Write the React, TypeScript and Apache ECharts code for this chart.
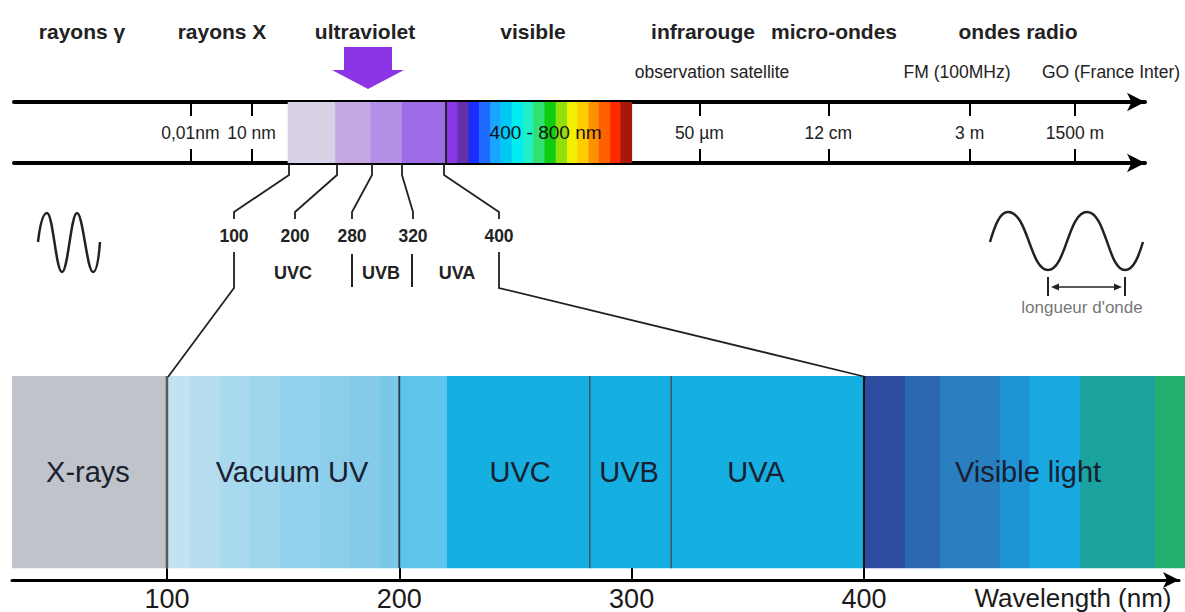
import React, { useEffect, useRef } from "react";
import * as echarts from "echarts";

// ---------- data ----------
// bottom band (wavelength in nm)
const BAND_EDGES = [33.3, 100, 109.9, 122.8, 135.7, 148.6, 165.9, 178.8, 191.7, 200, 220.5, 400, 417.6, 432.7, 458.5, 471.4, 493, 525.3, 538.5];
const BAND_COLORS = ["#bfc3ca", "#c0e2f1", "#b5ddef", "#a9d9ee", "#9fd5ed", "#94d1ec", "#8ccdea", "#83cbe9", "#79c8e8", "#5ec4ec", "#15afe2", "#2d4b9f", "#2a66b1", "#2a7fc1", "#1f94d4", "#19a8df", "#1ba39f", "#22af70"];
const BAND_DIVIDERS = [100, 200, 282, 317, 400];
const DIVIDER_COLORS = ["#5a5a5a", "#2a3a40", "#3d5560", "#3d5560", "#111111"];
const DIVIDER_WIDTHS = [2.5, 1.8, 1.5, 1.5, 2];
const BAND_LABELS = ["X-rays", "Vacuum UV", "UVC", "UVB", "UVA", "Visible light"];
const BAND_LABEL_AT = [66, 153.8, 252, 298.9, 353.5, 470.6];
const AXIS_TICKS = [100, 200, 300, 400];

// top ruler (position along the schematic ruler, 0..100)
const TOP_EDGES = [24.2, 28.4, 31.5, 34.3, 38.2, 39.2, 40.2, 41.1, 42.1, 43.0, 44.0, 45.0, 45.9, 46.9, 47.9, 48.9, 49.8, 50.8, 51.7, 52.7, 53.6, 54.6];
const TOP_COLORS = ["#d9d2e6", "#c5a9e5", "#b48fe6", "#9e6be6", "#8a38e6", "#6630aa", "#1a2cff", "#1f6bff", "#1aa5ff", "#00c8f5", "#00eef0", "#20f0c8", "#30e070", "#10cc10", "#90e010", "#f0f000", "#ffcc00", "#ff9000", "#ff6000", "#ff2a00", "#a81808"];
const TOP_BORDER = 38.2;
const TOP_TICKS = [15.6, 21.0, 60.6, 72.0, 84.5, 93.8];
const TOP_TICK_LABELS = ["0,01nm", "10 nm", "50 µm", "12 cm", "3 m", "1500 m"];
const VISIBLE_LABEL = "400 - 800 nm";
const VISIBLE_LABEL_AT = 47.0;

const HEADERS = ["rayons γ", "rayons X", "ultraviolet", "visible", "infrarouge", "micro-ondes", "ondes radio"];
const SUBHEADERS = ["observation satellite", "FM (100MHz)", "GO (France Inter)"];
const UV_BOUNDS = ["100", "200", "280", "320", "400"];
const UV_NAMES = ["UVC", "UVB", "UVA"];

const FONT = "'Liberation Sans', Arial, Helvetica, sans-serif";

echarts.graphic.registerShape(
  "waveSmall",
  echarts.graphic.extendPath(
    "M38,242 C40,225 43,213 47,213 C53,213 56,272 62,272 C68,272 71,213 77,213 C83,213 87,272 93,272 C97,272 99,255 100,242",
    {}
  )
);
echarts.graphic.registerShape(
  "waveBig",
  echarts.graphic.extendPath(
    "M990,242 C995,225 1000,212 1008,212 C1028,212 1030,270 1048,270 C1066,270 1068,212 1087,212 C1106,212 1108,270 1125,270 C1134,270 1139,255 1143,242",
    {}
  )
);

function txt(text: string, x: number, y: number, size: number, opts: any = {}) {
  return {
    type: "text",
    x,
    y,
    z: 10,
    style: {
      text,
      fontSize: size,
      fontFamily: FONT,
      fontWeight: opts.weight || "normal",
      fill: opts.color || "#222",
      align: opts.align || "center",
      verticalAlign: "middle",
    },
  };
}

function pl(points: number[][], width = 1.8, color = "#222") {
  return {
    type: "polyline",
    z: 5,
    shape: { points },
    style: { stroke: color, lineWidth: width, fill: "none" },
  };
}

export default function App() {
  const ref = useRef<HTMLDivElement>(null);

  useEffect(() => {
    if (!ref.current) return;
    const chart = echarts.init(ref.current, null, { renderer: "svg" });

    const bandData = BAND_COLORS.map((_, i) => [BAND_EDGES[i], BAND_EDGES[i + 1]]);
    const topData = TOP_COLORS.map((_, i) => [TOP_EDGES[i], TOP_EDGES[i + 1]]);

    const headerX = [82, 222, 365, 533, 703, 834, 1018];
    const subX = [712, 957, 1111];
    const numX = [234, 295, 352, 413, 499];
    const stripX = [289, 337, 372, 402, 444];
    const uvX = [293, 381, 457];

    const graphic: any[] = [];
    HEADERS.forEach((h, i) => graphic.push(txt(h, headerX[i], 31, 21, { weight: "bold" })));
    SUBHEADERS.forEach((h, i) => graphic.push(txt(h, subX[i], 72, 17.5)));
    // purple arrow
    graphic.push({
      type: "polygon",
      z: 5,
      shape: { points: [[344, 47], [392, 47], [392, 70], [404, 70], [368, 89], [332, 70], [344, 70]] },
      style: { fill: "#8b35e6" },
    });
    // connectors strip -> numbers
    stripX.forEach((sx, i) => {
      graphic.push(pl([[sx, 164], [sx, 175], [numX[i], 212], [numX[i], 219]]));
    });
    UV_BOUNDS.forEach((b, i) => graphic.push(txt(b, numX[i], 236, 17.5, { weight: "bold" })));
    UV_NAMES.forEach((n, i) => graphic.push(txt(n, uvX[i], 273, 18, { weight: "bold" })));
    graphic.push(pl([[352, 254], [352, 287]], 2));
    graphic.push(pl([[412, 254], [412, 287]], 2));
    // connectors numbers -> bottom band
    graphic.push(pl([[234, 252], [234, 288], [168, 377]], 1.8));
    graphic.push(pl([[499, 252], [499, 288], [866, 377]], 1.8));
    // waves
    graphic.push({ type: "waveSmall", z: 5, style: { stroke: "#222", lineWidth: 2.5, fill: "none" } });
    graphic.push({ type: "waveBig", z: 5, style: { stroke: "#222", lineWidth: 2.5, fill: "none" } });
    graphic.push(pl([[1048, 277], [1048, 296]], 2));
    graphic.push(pl([[1125, 277], [1125, 296]], 2));
    graphic.push(pl([[1055, 287], [1118, 287]], 1.5));
    graphic.push({ type: "polygon", z: 5, shape: { points: [[1051, 287], [1059, 283.5], [1059, 290.5]] }, style: { fill: "#222" } });
    graphic.push({ type: "polygon", z: 5, shape: { points: [[1122, 287], [1114, 283.5], [1114, 290.5]] }, style: { fill: "#222" } });
    graphic.push(txt("longueur d'onde", 1082, 307, 17, { color: "#777" }));
    graphic.push(txt("Wavelength (nm)", 1073, 598, 26, { color: "#1a1a1a" }));

    const rulerAxis = (position: string) => ({
      type: "value",
      gridIndex: 1,
      position,
      min: 0,
      max: 100,
      splitLine: { show: false },
      axisLine: { show: true, onZero: false, symbol: ["none", "arrow"], symbolSize: [14, 18], lineStyle: { color: "#000", width: 4 } },
      axisTick: { show: true, inside: true, length: 14, customValues: TOP_TICKS, lineStyle: { color: "#000", width: 2 } },
      axisLabel: { show: false },
    });

    const option: any = {
      animation: false,
      backgroundColor: "#ffffff",
      grid: [
        { left: 12, right: 6, top: 376, bottom: 30 },
        { left: 14, width: 1131, top: 102, height: 61 },
      ],
      xAxis: [
        {
          type: "value",
          gridIndex: 0,
          min: 33.3,
          max: 535.6,
          splitLine: { show: false },
          axisLine: { show: true, onZero: false, symbol: ["none", "arrow"], symbolSize: [12, 16], lineStyle: { color: "#000", width: 3 } },
          axisTick: { show: true, inside: true, length: 12, customValues: AXIS_TICKS, lineStyle: { color: "#000", width: 2 } },
          axisLabel: { show: true, customValues: AXIS_TICKS, fontSize: 27, color: "#1a1a1a", fontFamily: FONT, margin: 5 },
        },
        rulerAxis("top"),
        rulerAxis("bottom"),
      ],
      yAxis: [
        { type: "value", gridIndex: 0, min: 0, max: 1, show: false },
        { type: "value", gridIndex: 1, min: 0, max: 1, show: false },
      ],
      series: [
        {
          type: "custom",
          xAxisIndex: 0,
          yAxisIndex: 0,
          clip: false,
          z: 2,
          data: bandData,
          renderItem: (params: any, api: any) => {
            const p0 = api.coord([api.value(0), 1]);
            const p1 = api.coord([api.value(1), 0.058]);
            return {
              type: "rect",
              shape: { x: p0[0], y: p0[1], width: p1[0] - p0[0] + 0.6, height: p1[1] - p0[1] },
              style: { fill: BAND_COLORS[params.dataIndex] },
            };
          },
        },
        {
          type: "custom",
          xAxisIndex: 0,
          yAxisIndex: 0,
          z: 3,
          data: BAND_DIVIDERS.map((v) => [v]),
          renderItem: (params: any, api: any) => {
            const p0 = api.coord([api.value(0), 1]);
            const p1 = api.coord([api.value(0), 0.058]);
            return {
              type: "line",
              shape: { x1: p0[0], y1: p0[1], x2: p1[0], y2: p1[1] },
              style: { stroke: DIVIDER_COLORS[params.dataIndex], lineWidth: DIVIDER_WIDTHS[params.dataIndex] },
            };
          },
        },
        {
          type: "custom",
          xAxisIndex: 0,
          yAxisIndex: 0,
          z: 4,
          data: BAND_LABEL_AT.map((v) => [v]),
          renderItem: (params: any, api: any) => {
            const p = api.coord([api.value(0), 0.53]);
            return {
              type: "text",
              x: p[0],
              y: p[1],
              style: {
                text: BAND_LABELS[params.dataIndex],
                fontSize: 29,
                fontFamily: FONT,
                fill: "#1a2030",
                align: "center",
                verticalAlign: "middle",
              },
            };
          },
        },
        {
          type: "custom",
          xAxisIndex: 1,
          yAxisIndex: 1,
          z: 2,
          data: topData,
          renderItem: (params: any, api: any) => {
            const p0 = api.coord([api.value(0), 1]);
            const p1 = api.coord([api.value(1), 0]);
            return {
              type: "rect",
              shape: { x: p0[0], y: p0[1], width: p1[0] - p0[0] + 0.6, height: p1[1] - p0[1] },
              style: { fill: TOP_COLORS[params.dataIndex] },
            };
          },
        },
        {
          type: "custom",
          xAxisIndex: 1,
          yAxisIndex: 1,
          z: 3,
          data: [[TOP_BORDER]],
          renderItem: (params: any, api: any) => {
            const p0 = api.coord([api.value(0), 1]);
            const p1 = api.coord([api.value(0), 0]);
            return {
              type: "line",
              shape: { x1: p0[0], y1: p0[1], x2: p1[0], y2: p1[1] },
              style: { stroke: "#222", lineWidth: 2 },
            };
          },
        },
        {
          type: "custom",
          xAxisIndex: 1,
          yAxisIndex: 1,
          z: 4,
          data: [...TOP_TICKS, VISIBLE_LABEL_AT].map((v) => [v]),
          renderItem: (params: any, api: any) => {
            const p = api.coord([api.value(0), 0.5]);
            const isVis = params.dataIndex === TOP_TICKS.length;
            return {
              type: "text",
              x: p[0],
              y: p[1],
              style: {
                text: isVis ? VISIBLE_LABEL : TOP_TICK_LABELS[params.dataIndex],
                fontSize: isVis ? 19 : 17.5,
                fontFamily: FONT,
                fill: isVis ? "#111" : "#222",
                align: "center",
                verticalAlign: "middle",
              },
            };
          },
        },
      ],
      graphic,
    };

    chart.setOption(option);
    return () => chart.dispose();
  }, []);

  return (
    <div
      ref={ref}
      style={{ position: "absolute", left: 0, top: 0, width: 1185, height: 612, background: "#fff" }}
    />
  );
}
